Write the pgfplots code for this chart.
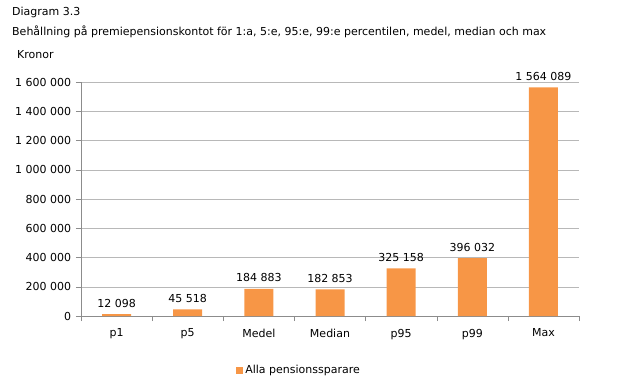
\documentclass[border=0pt]{standalone}
\usepackage{pgfplots}
\pgfplotsset{compat=1.18}
\usepackage{fontspec}
\setmainfont{DejaVu Sans}
\definecolor{barorange}{HTML}{F79646}
\definecolor{gridgray}{HTML}{B8B8B8}
\definecolor{axgray}{HTML}{8C8C8C}
\newcommand{\fs}{\fontsize{11bp}{13bp}\selectfont}
\begin{document}
\fs
\begin{tikzpicture}
\path[use as bounding box] (-81bp,-70bp) rectangle (539bp,316bp);
\begin{axis}[
  at={(0,0)}, anchor=south west,
  scale only axis, width=498bp, height=234bp,
  xmin=-0.5, xmax=6.5, ymin=0, ymax=1600000,
  axis lines=left, axis line style={-, draw=axgray},
  xtick={0,...,6},
  xticklabels={p1,p5,Medel,Median,p95,p99,Max},
  minor xtick={-0.5,0.5,...,6.5},
  major x tick style={draw=none},
  minor x tick style={draw=axgray},
  ytick={0,200000,...,1600000},
  ytick style={draw=axgray},
  tick align=outside,
  major tick length=5bp, minor tick length=5bp,
  ymajorgrids, grid style={draw=gridgray, line width=0.5pt},
  yticklabel style={/pgf/number format/fixed, /pgf/number format/precision=0, /pgf/number format/1000 sep={\ }, /pgf/number format/assume math mode=true, xshift=-1bp},
  scaled y ticks=false,
  ticklabel style={font=\fs, text=black},
  xticklabel style={yshift=-4bp},
  ybar, bar width=29bp,
  nodes near coords,
  point meta=explicit symbolic,
  every node near coord/.append style={font=\fs, text=black, anchor=south, yshift=3bp},
  legend style={at={(0.438,-0.231)}, anchor=center, draw=none, font=\fs, inner sep=0pt},
  legend image code/.code={\fill[barorange] (0bp,-3.5bp) rectangle (7bp,3.5bp);},
  legend cell align=left,
]
\addplot[fill=barorange, draw=none] coordinates {
 (0,12098) [12 098]
 (1,45518) [45 518]
 (2,184883) [184 883]
 (3,182853) [182 853]
 (4,325158) [325 158]
 (5,396032) [396 032]
 (6,1564089) [1 564 089]
};
\addlegendentry{Alla pensionssparare}
\end{axis}
\node[anchor=base west, inner sep=0pt] at (-69bp,300bp) {Diagram 3.3};
\node[anchor=base west, inner sep=0pt] at (-69bp,280bp) {Behållning på premiepensionskontot för 1:a, 5:e, 95:e, 99:e percentilen, medel, median och max};
\node[anchor=base west, inner sep=0pt] at (-64bp,257bp) {Kronor};
\end{tikzpicture}
\end{document}
